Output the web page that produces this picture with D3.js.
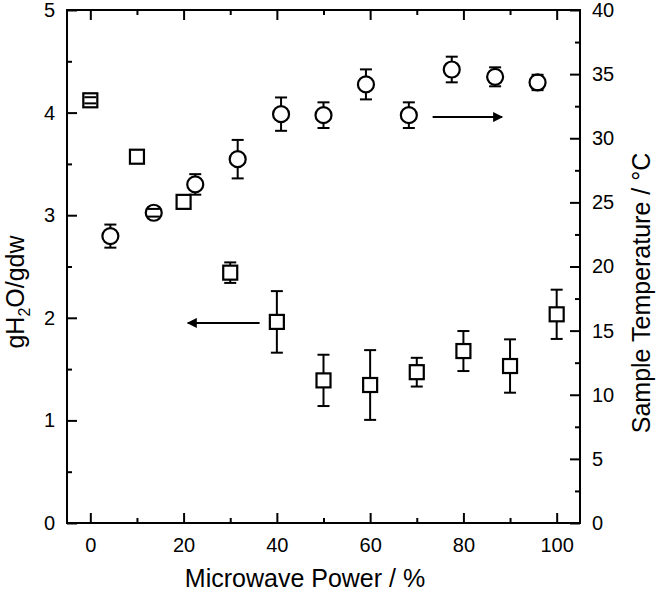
<!DOCTYPE html>
<html>
<head>
<meta charset="utf-8">
<script src="https://cdn.jsdelivr.net/npm/d3@7"></script>
<style>
  body { margin: 0; background: #fff; }
  text { font-family: "Liberation Sans", Arial, sans-serif; fill: #000; }
</style>
</head>
<body>
<svg width="660" height="593"></svg>
<script>
// water content (squares, left axis)
const powerSq = [0, 10, 20, 30, 40, 50, 60, 70, 80, 90, 100];
const waterVals = [4.12, 3.57, 3.13, 2.44, 1.96, 1.39, 1.345, 1.47, 1.676, 1.53, 2.034];
const waterErr = [0.03, 0, 0, 0.1, 0.3, 0.25, 0.34, 0.14, 0.195, 0.26, 0.24];

// sample temperature (circles, right axis)
const powerCirc = [4.3, 13.6, 22.5, 31.6, 40.9, 50, 59.1, 68.3, 77.5, 86.8, 95.9];
const tempVals = [22.37, 24.19, 26.4, 28.37, 31.88, 31.8, 34.2, 31.8, 35.36, 34.79, 34.35];
const tempErr = [0.9, 0.3, 0.8, 1.5, 1.3, 1.0, 1.17, 1.0, 1.0, 0.74, 0.6];

const xTicks = [0, 20, 40, 60, 80, 100];
const xMinor = [10, 30, 50, 70, 90];
const yLeftTicks = [0, 1, 2, 3, 4, 5];
const yLeftMinor = [0.5, 1.5, 2.5, 3.5, 4.5];
const yRightTicks = [0, 5, 10, 15, 20, 25, 30, 35, 40];
const yRightMinor = [2.5, 7.5, 12.5, 17.5, 22.5, 27.5, 32.5, 37.5];

const svg = d3.select('svg');
const pLeft = 67, pRight = 580, pTop = 10, pBottom = 523;

const x = d3.scaleLinear().domain([-5, 105]).range([pLeft, pRight]);
const yL = d3.scaleLinear().domain([0, 5]).range([pBottom, pTop]);
const yR = d3.scaleLinear().domain([0, 40]).range([pBottom, pTop]);

const defs = svg.append('defs');
defs.append('marker')
  .attr('id', 'head')
  .attr('viewBox', '0 0 10 10')
  .attr('refX', 9).attr('refY', 5)
  .attr('markerWidth', 7).attr('markerHeight', 5)
  .attr('markerUnits', 'strokeWidth')
  .attr('orient', 'auto')
  .append('path').attr('d', 'M0,0L10,5L0,10Z').attr('fill', '#000');

function styleAxis(g) {
  g.select('.domain').remove();
  g.selectAll('line').attr('stroke', '#000').attr('stroke-width', 2);
  g.selectAll('text').attr('font-size', 20).attr('font-family', '"Liberation Sans", Arial, sans-serif');
}

const fmt = d3.format('d');

// bottom axis
svg.append('g').attr('transform', `translate(0,${pBottom})`)
  .call(d3.axisBottom(x).tickValues(xTicks).tickFormat(fmt).tickSize(-10).tickPadding(15).tickSizeOuter(0))
  .call(styleAxis);
svg.append('g').attr('transform', `translate(0,${pBottom})`)
  .call(d3.axisBottom(x).tickValues(xMinor).tickSize(-5).tickFormat('').tickSizeOuter(0))
  .call(styleAxis);
// top axis
svg.append('g').attr('transform', `translate(0,${pTop})`)
  .call(d3.axisTop(x).tickValues(xTicks).tickSize(-10).tickFormat('').tickSizeOuter(0))
  .call(styleAxis);
svg.append('g').attr('transform', `translate(0,${pTop})`)
  .call(d3.axisTop(x).tickValues(xMinor).tickSize(-5).tickFormat('').tickSizeOuter(0))
  .call(styleAxis);
// left axis
svg.append('g').attr('transform', `translate(${pLeft},0)`)
  .call(d3.axisLeft(yL).tickValues(yLeftTicks).tickFormat(fmt).tickSize(-10).tickPadding(12).tickSizeOuter(0))
  .call(styleAxis);
svg.append('g').attr('transform', `translate(${pLeft},0)`)
  .call(d3.axisLeft(yL).tickValues(yLeftMinor).tickSize(-5).tickFormat('').tickSizeOuter(0))
  .call(styleAxis);
// right axis
svg.append('g').attr('transform', `translate(${pRight},0)`)
  .call(d3.axisRight(yR).tickValues(yRightTicks).tickFormat(fmt).tickSize(-10).tickPadding(12).tickSizeOuter(0))
  .call(styleAxis);
svg.append('g').attr('transform', `translate(${pRight},0)`)
  .call(d3.axisRight(yR).tickValues(yRightMinor).tickSize(-5).tickFormat('').tickSizeOuter(0))
  .call(styleAxis);

// frame
svg.append('rect')
  .attr('x', pLeft).attr('y', pTop)
  .attr('width', pRight - pLeft).attr('height', pBottom - pTop)
  .attr('fill', 'none').attr('stroke', '#000').attr('stroke-width', 2);

// error bars + markers
const sqHalf = 7, circR = 8, capHalf = 6;

function drawSeries(xs, ys, errs, yScale, half, shape) {
  const g = svg.append('g');
  xs.forEach((xv, i) => {
    const cx = x(xv), cy = yScale(ys[i]);
    const yTop = yScale(ys[i] + errs[i]), yBot = yScale(ys[i] - errs[i]);
    if (cy - yTop > half) {
      g.append('line').attr('x1', cx).attr('x2', cx).attr('y1', cy - half).attr('y2', yTop)
        .attr('stroke', '#000').attr('stroke-width', 2);
      g.append('line').attr('x1', cx).attr('x2', cx).attr('y1', cy + half).attr('y2', yBot)
        .attr('stroke', '#000').attr('stroke-width', 2);
    }
    if (shape === 'square') {
      g.append('rect').attr('x', cx - half).attr('y', cy - half)
        .attr('width', half * 2).attr('height', half * 2)
        .attr('fill', '#fff').attr('stroke', '#000').attr('stroke-width', 2.2);
    } else {
      g.append('circle').attr('cx', cx).attr('cy', cy).attr('r', half)
        .attr('fill', '#fff').attr('stroke', '#000').attr('stroke-width', 2.2);
    }
    if (errs[i] > 0) {
      [yTop, yBot].forEach(yy => {
        g.append('line').attr('x1', cx - capHalf).attr('x2', cx + capHalf).attr('y1', yy).attr('y2', yy)
          .attr('stroke', '#000').attr('stroke-width', 2);
      });
    }
  });
}

drawSeries(powerSq, waterVals, waterErr, yL, sqHalf, 'square');
drawSeries(powerCirc, tempVals, tempErr, yR, circR, 'circle');

// arrows pointing to the axis each series belongs to
svg.append('line')
  .attr('x1', x(36.3)).attr('x2', x(20.9))
  .attr('y1', yL(1.95)).attr('y2', yL(1.95))
  .attr('stroke', '#000').attr('stroke-width', 2).attr('marker-end', 'url(#head)');
svg.append('line')
  .attr('x1', x(73.4)).attr('x2', x(88.3))
  .attr('y1', yR(31.65)).attr('y2', yR(31.65))
  .attr('stroke', '#000').attr('stroke-width', 2).attr('marker-end', 'url(#head)');

// axis titles
svg.append('text')
  .attr('x', 305).attr('y', 587)
  .attr('text-anchor', 'middle').attr('font-size', 25)
  .text('Microwave Power / %');

const yt = svg.append('text')
  .attr('transform', 'translate(24,292) rotate(-90)')
  .attr('text-anchor', 'middle').attr('font-size', 25);
yt.append('tspan').text('gH');
yt.append('tspan').attr('font-size', 16).attr('dy', 6).text('2');
yt.append('tspan').attr('dy', -6).text('O/gdw');

svg.append('text')
  .attr('transform', 'translate(650,293) rotate(-90)')
  .attr('text-anchor', 'middle').attr('font-size', 25)
  .text('Sample Temperature / °C');
</script>
</body>
</html>
